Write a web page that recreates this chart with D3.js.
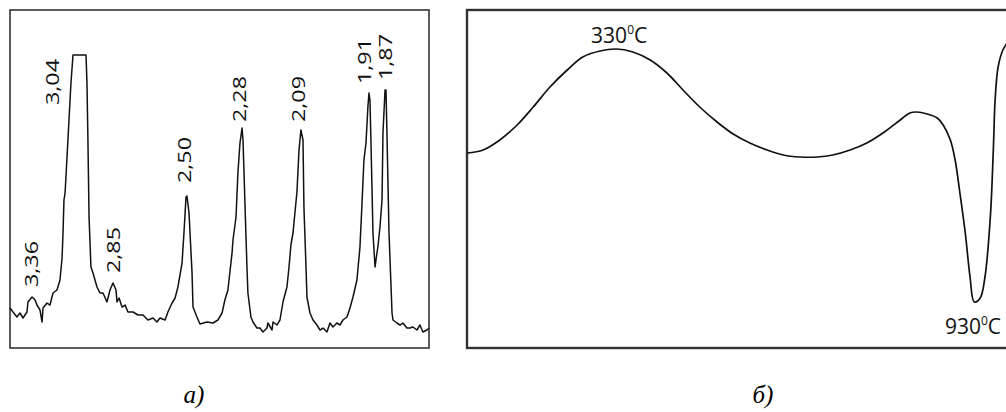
<!DOCTYPE html>
<html>
<head>
<meta charset="utf-8">
<script src="https://cdn.jsdelivr.net/npm/d3@7"></script>
<style>
  body { margin: 0; background: #fff; }
  svg { display: block; }
</style>
</head>
<body>
<div id="chart"></div>
<script>
// ---- data: a) X-ray pattern (2theta, intensity in arbitrary units) ----
var xrdTheta = [25.00, 25.19, 25.44, 25.63, 25.82, 26.07, 26.13, 26.39, 26.58, 26.70,
  26.89, 27.02, 27.08, 27.33, 27.52, 27.71, 27.96, 28.15, 28.28, 28.34,
  28.40, 28.47, 28.65, 28.84, 28.97, 29.79, 29.85, 29.91, 29.98, 30.10,
  30.23, 30.48, 30.67, 30.86, 31.11, 31.30, 31.49, 31.68, 31.74, 31.87,
  32.06, 32.25, 32.43, 32.75, 33.06, 33.38, 33.69, 34.01, 34.26, 34.45,
  34.77, 34.95, 35.21, 35.40, 35.58, 35.84, 35.96, 36.09, 36.15, 36.28,
  36.47, 36.53, 36.78, 36.97, 37.41, 37.79, 38.10, 38.36, 38.54, 38.73,
  38.99, 39.05, 39.24, 39.36, 39.49, 39.62, 39.68, 39.81, 39.93, 39.99,
  40.18, 40.31, 40.56, 40.75, 40.94, 41.19, 41.25, 41.51, 41.57, 41.82,
  42.01, 42.20, 42.45, 42.58, 42.70, 42.83, 43.08, 43.21, 43.33, 43.46,
  43.52, 43.65, 43.71, 43.90, 44.09, 44.34, 44.53, 44.72, 44.97, 45.16,
  45.35, 45.60, 45.79, 45.98, 46.23, 46.42, 46.61, 46.86, 47.05, 47.18,
  47.30, 47.43, 47.55, 47.62, 47.68, 47.74, 47.81, 47.87, 48.00, 48.12,
  48.18, 48.31, 48.44, 48.50, 48.63, 48.69, 48.75, 48.88, 49.00, 49.07,
  49.13, 49.38, 49.57, 49.76, 50.01, 50.20, 50.39, 50.64, 50.83, 51.02,
  51.27, 51.40];
var xrdInt = [40, 36, 31, 35, 30, 36, 46, 51, 48, 43,
  38, 26, 40, 45, 43, 55, 58, 68, 90, 115,
  148, 155, 208, 265, 293, 293, 265, 208, 131, 81,
  75, 61, 55, 55, 46, 58, 65, 58, 46, 50,
  41, 43, 36, 36, 33, 33, 28, 30, 26, 30,
  28, 36, 45, 50, 61, 85, 115, 151, 152, 135,
  75, 41, 31, 24, 26, 25, 28, 35, 48, 58,
  95, 108, 131, 175, 205, 220, 208, 141, 81, 55,
  31, 26, 20, 20, 16, 20, 25, 18, 26, 23,
  28, 46, 61, 81, 103, 115, 156, 198, 218, 208,
  141, 81, 51, 35, 28, 23, 18, 20, 16, 25,
  21, 25, 23, 28, 31, 40, 51, 68, 101, 145,
  188, 205, 241, 255, 248, 208, 158, 115, 81, 95,
  101, 121, 148, 215, 258, 258, 215, 115, 65, 35,
  28, 25, 23, 25, 20, 20, 21, 18, 23, 16,
  18, 20];

// d-spacing labels of the peaks
var peakLabels = ["3,36", "3,04", "2,85", "2,50", "2,28", "2,09", "1,91", "1,87"];
var peakLabelTheta = [26.32, 27.65, 31.49, 35.96, 39.43, 43.14, 47.30, 48.63];
var peakLabelInt = [61, 243, 75, 165, 226, 226, 264, 268];

// ---- data: б) thermal curve (temperature, signal in arbitrary units) ----
var dtaTemp = [80, 107, 135, 164, 191, 219, 248, 274, 303, 330,
  358, 387, 415, 442, 470, 499, 526, 554, 583, 610,
  638, 667, 693, 722, 750, 777, 806, 822, 834, 851,
  868, 878, 890, 898, 906, 915, 923, 930, 940, 948,
  957, 962, 965, 970, 978, 983, 990];
var dtaSignal = [195, 198, 208, 223, 241, 261, 278, 291, 297, 299,
  296, 288, 275, 258, 241, 226, 214, 205, 198, 193,
  191, 191, 193, 198, 205, 215, 228, 235, 236, 234,
  230, 223, 208, 188, 155, 115, 71, 46, 50, 71,
  131, 198, 248, 281, 298, 303, 310];

var dtaLabels = ["330", "930"];
var dtaLabelTemp = [335, 928];
var dtaLabelSignal = [305, 14];

var panelNames = ["а)", "б)"];

// ---- layout ----
var width = 1006, height = 412;
var plotTop = 10, plotBottom = 348;

var svg = d3.select("#chart")
  .append("svg")
  .attr("width", width)
  .attr("height", height);

// ===== panel a =====
var xA = d3.scaleLinear().domain([25, 51.4]).range([10, 429]);
var yA = d3.scaleLinear().domain([0, 338]).range([plotBottom, plotTop]);

var gA = svg.append("g");

gA.append("rect")
  .attr("x", xA.range()[0])
  .attr("y", plotTop)
  .attr("width", xA.range()[1] - xA.range()[0])
  .attr("height", plotBottom - plotTop)
  .attr("fill", "none")
  .attr("stroke", "#333")
  .attr("stroke-width", 1.6);

var xrd = xrdTheta.map((t, i) => [t, xrdInt[i]]);
gA.append("path")
  .datum(xrd)
  .attr("fill", "none")
  .attr("stroke", "#111")
  .attr("stroke-width", 1.5)
  .attr("stroke-linejoin", "round")
  .attr("d", d3.line().x(d => xA(d[0])).y(d => yA(d[1])));

gA.selectAll("text.peak")
  .data(peakLabels)
  .enter()
  .append("text")
  .attr("class", "peak")
  .attr("transform", (d, i) => `translate(${xA(peakLabelTheta[i])}, ${yA(peakLabelInt[i])}) rotate(-90)`)
  .attr("dy", "0.36em")
  .attr("font-family", "Open Sans, sans-serif")
  .attr("font-size", 19)
  .attr("textLength", 46)
  .attr("lengthAdjust", "spacingAndGlyphs")
  .attr("fill", "#111")
  .text(d => d);

// ===== panel б =====
var xB = d3.scaleLinear().domain([80, 1000]).range([467, 1016]);
var yB = d3.scaleLinear().domain([0, 338]).range([plotBottom, plotTop]);

var gB = svg.append("g");

gB.append("rect")
  .attr("x", 467)
  .attr("y", plotTop)
  .attr("width", 560)
  .attr("height", plotBottom - plotTop)
  .attr("fill", "none")
  .attr("stroke", "#333")
  .attr("stroke-width", 2.4);

var dta = dtaTemp.map((t, i) => [t, dtaSignal[i]]);
gB.append("path")
  .datum(dta)
  .attr("fill", "none")
  .attr("stroke", "#111")
  .attr("stroke-width", 1.7)
  .attr("d", d3.line().curve(d3.curveCatmullRom.alpha(0.5)).x(d => xB(d[0])).y(d => yB(d[1])));

var tl = gB.selectAll("text.temp")
  .data(dtaLabels)
  .enter()
  .append("text")
  .attr("class", "temp")
  .attr("x", (d, i) => xB(dtaLabelTemp[i]))
  .attr("y", (d, i) => yB(dtaLabelSignal[i]))
  .attr("text-anchor", "middle")
  .attr("font-family", "Open Sans, sans-serif")
  .attr("font-size", 21)
  .attr("fill", "#111");
tl.append("tspan").text(d => d);
tl.append("tspan").attr("font-size", 12).attr("dy", -9).text("0");
tl.append("tspan").attr("dy", 9).text("C");

// ===== captions =====
svg.selectAll("text.caption")
  .data(panelNames)
  .enter()
  .append("text")
  .attr("class", "caption")
  .attr("x", (d, i) => i === 0 ? 194 : 763)
  .attr("y", 403)
  .attr("text-anchor", "middle")
  .attr("font-family", "Liberation Serif, serif")
  .attr("font-style", "italic")
  .attr("font-size", 25)
  .attr("fill", "#000")
  .text(d => d);
</script>
</body>
</html>
